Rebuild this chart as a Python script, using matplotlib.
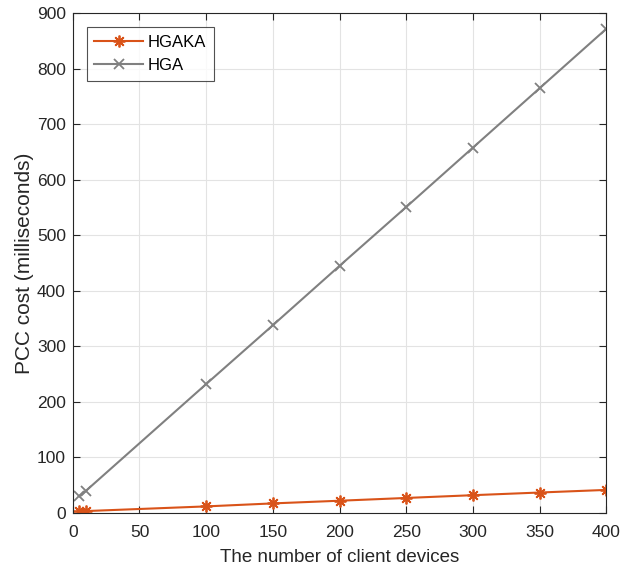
import matplotlib
matplotlib.use('Agg')
import matplotlib.pyplot as plt

# number of client devices
devices = [5, 10, 100, 150, 200, 250, 300, 350, 400]
# PCC cost in milliseconds
hgaka_cost = [2.6, 3.2, 11.6, 17.0, 21.8, 26.8, 31.8, 36.6, 41.3]
hga_cost = [30, 40, 232, 338, 445, 551, 658, 765, 872]

xticks = [0, 50, 100, 150, 200, 250, 300, 350, 400]
yticks = [0, 100, 200, 300, 400, 500, 600, 700, 800, 900]

plt.rcParams['font.family'] = ['Liberation Sans', 'DejaVu Sans']

fig = plt.figure(figsize=(6.33, 5.73), dpi=100)
ax = fig.add_axes([0.115, 0.105, 0.843, 0.872])

ax.plot(devices, hgaka_cost, color='#D95319', lw=1.5, marker=(8, 2, 0),
        ms=8.5, mew=1.3, label='HGAKA')
ax.plot(devices, hga_cost, color='#808080', lw=1.5, marker='x',
        ms=7, mew=1.3, label='HGA')

ax.set_xlim(0, 400)
ax.set_ylim(0, 900)
ax.set_xticks(xticks)
ax.set_yticks(yticks)
ax.grid(True, color='#e3e3e3', lw=0.8)
ax.set_axisbelow(True)

for s in ax.spines.values():
    s.set_color('#262626')
    s.set_linewidth(0.8)
ax.tick_params(direction='in', top=True, right=True, length=5, width=0.8,
               labelsize=12.5, colors='#262626')
ax.tick_params(axis='x', pad=9)
ax.tick_params(axis='y', pad=5)

ax.set_xlabel('The number of client devices', fontsize=13.5, color='#262626',
              labelpad=6)
ax.set_ylabel('PCC cost (milliseconds)', fontsize=15, color='#262626',
              labelpad=2)

leg = ax.legend(loc='upper left', fontsize=12, frameon=True, fancybox=False,
                edgecolor='#262626', borderaxespad=0.85, handlelength=2.9,
                handletextpad=0.3, labelspacing=0.5, borderpad=0.45)
leg.get_frame().set_linewidth(0.8)

fig.savefig('out.png', dpi=100)
